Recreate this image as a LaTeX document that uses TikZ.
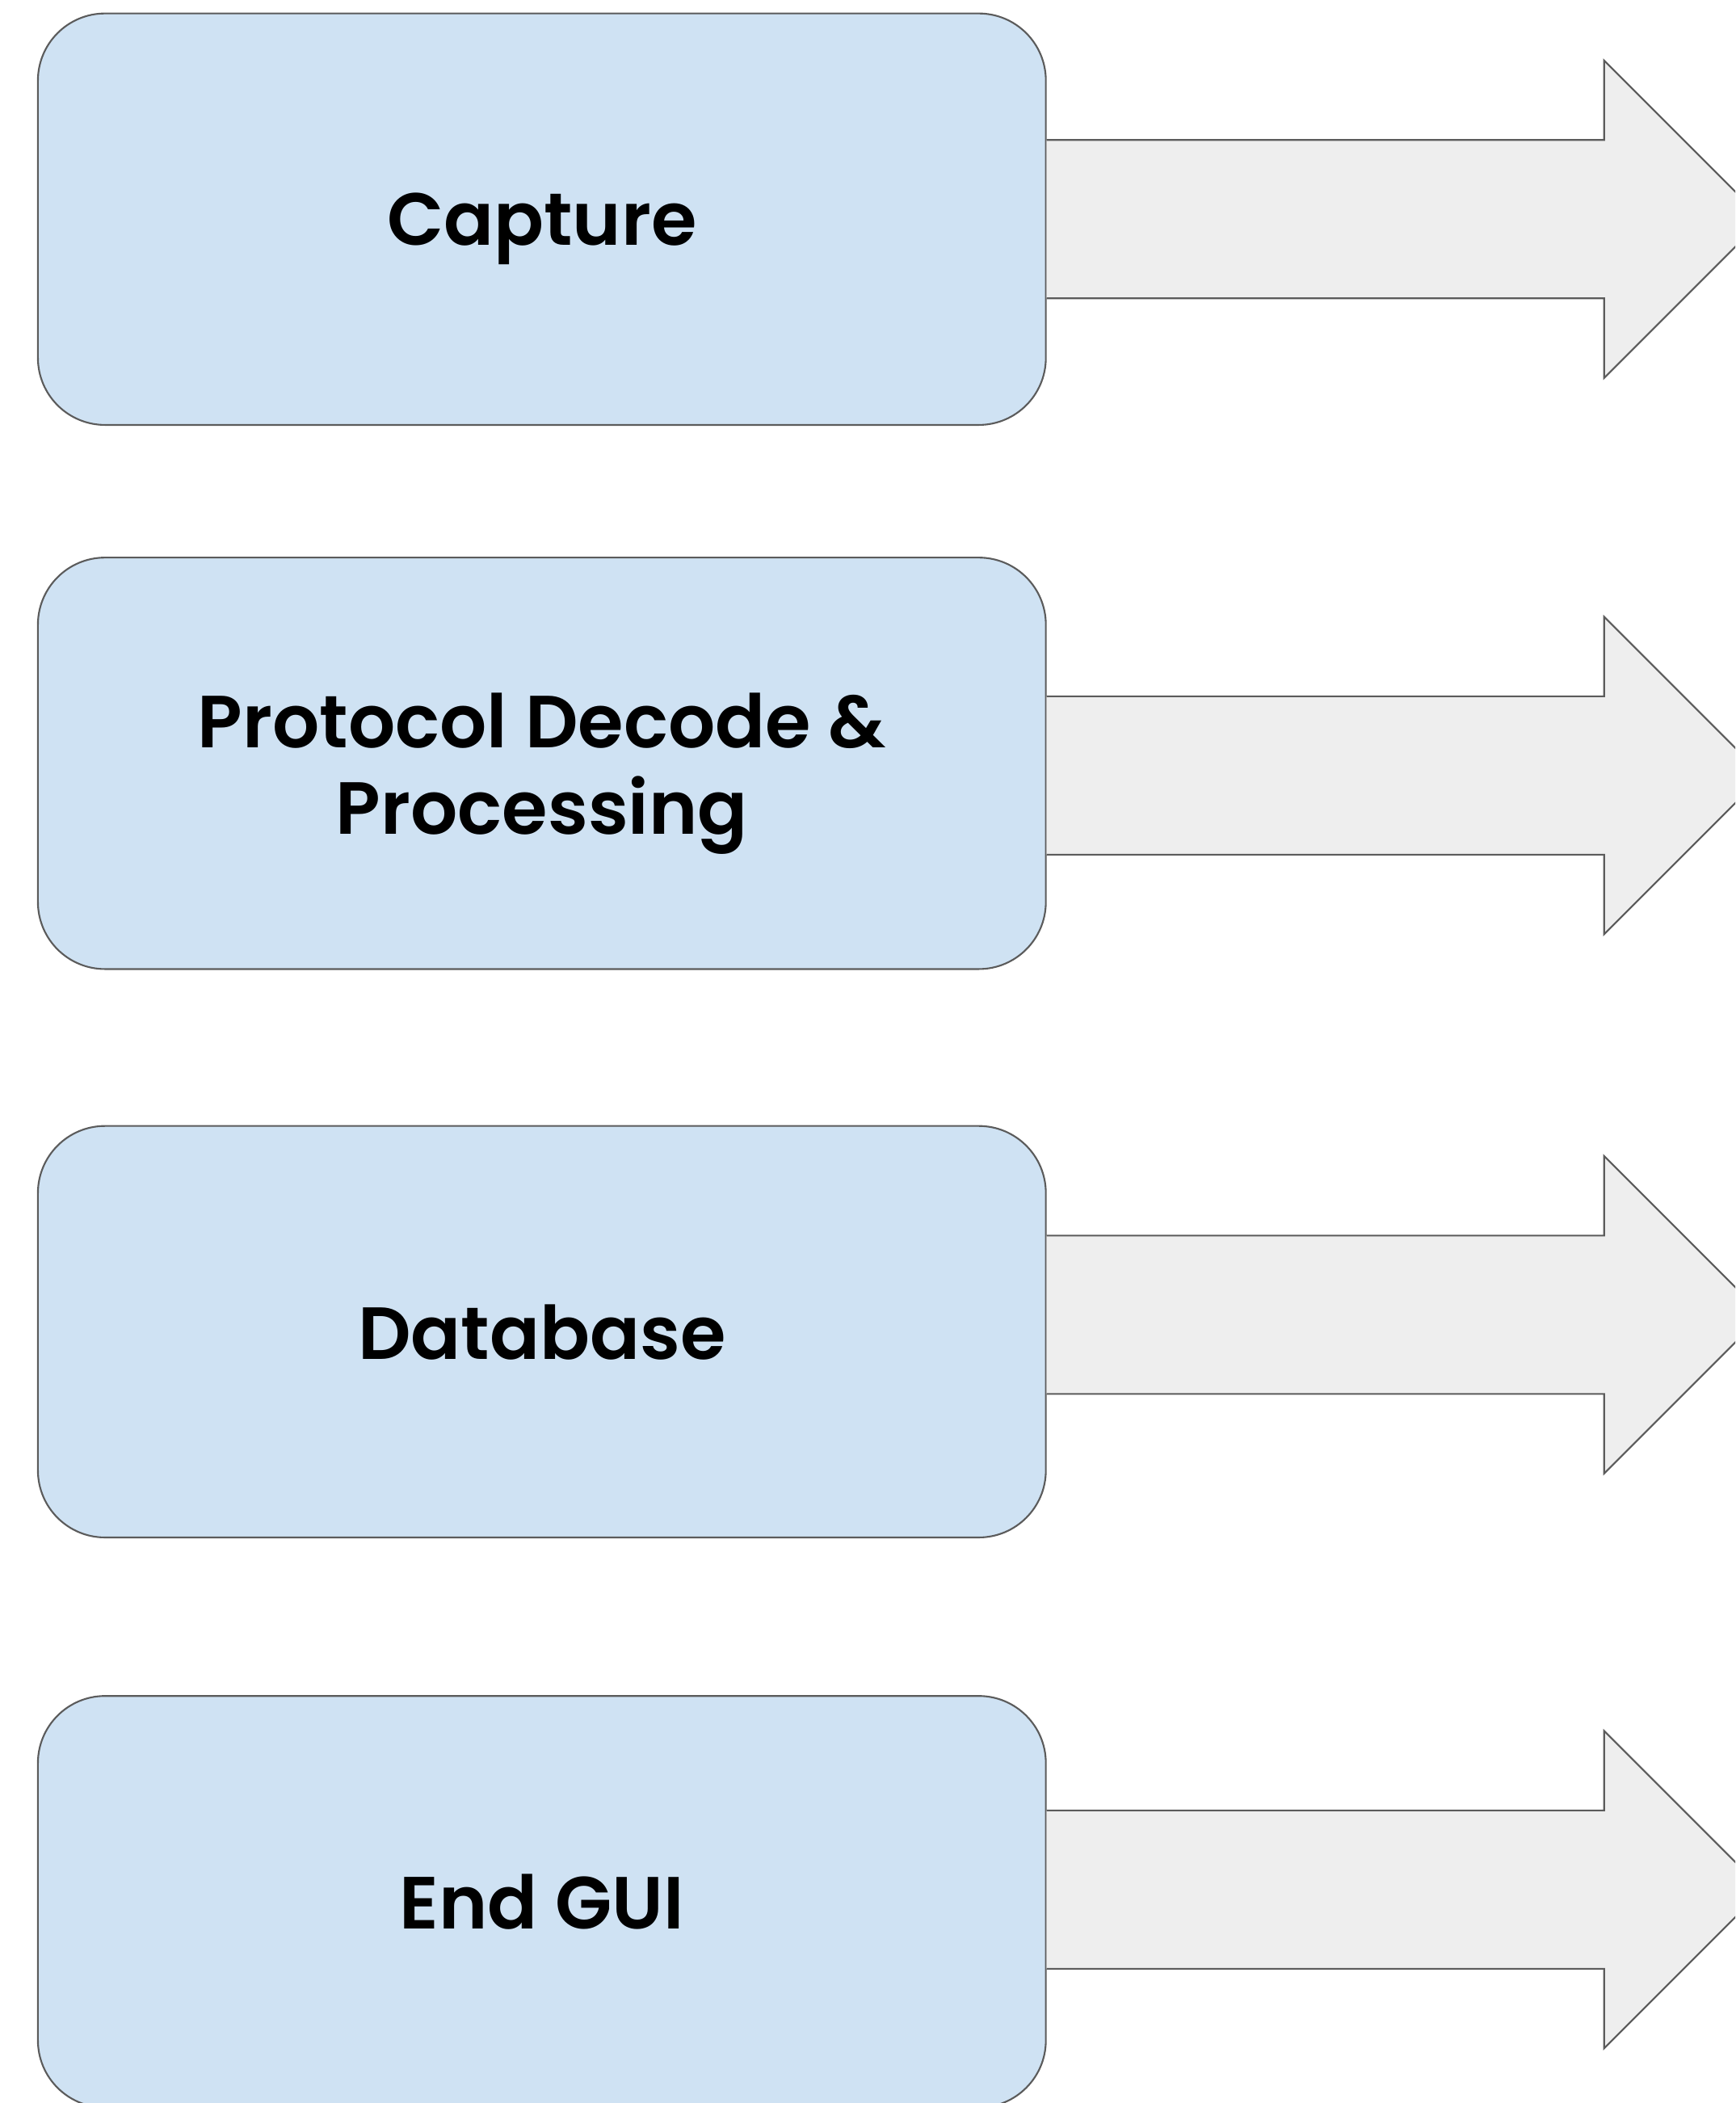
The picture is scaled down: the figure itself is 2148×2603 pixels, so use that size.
\documentclass[tikz,border=0pt]{standalone}
\usepackage{fontspec}
\setmainfont{Poppins}[BoldFont={Poppins SemiBold}]
\usetikzlibrary{positioning}
\definecolor{stageblue}{HTML}{CFE2F3}
\definecolor{flowgray}{HTML}{EEEEEE}
\definecolor{edgegray}{HTML}{5B5B5B}
\tikzset{
  stage/.style={draw=edgegray, fill=stageblue, line width=0.6pt,
    rounded corners=0.83cm, minimum width=12.47cm, minimum height=5.09cm,
    inner sep=0pt, align=center, text depth=0pt,
    font=\fontsize{26}{30.5}\selectfont\bfseries},
  flow/.style={draw=edgegray, fill=flowgray, line width=0.6pt, line join=miter}
}
% block arrow out of a stage: #1 stage, #2 vertical offset of its axis
\newcommand{\flowarrow}[2]{%
  \filldraw[flow] (#1.east) ++(0,{#2-98}) -- ++(690,0) -- ++(0,-98.5)
    -- ++(196.5,196.5) -- ++(-196.5,196.5) -- ++(0,-98.5) -- ++(-690,0);}
\begin{document}
\begin{tikzpicture}[x=0.01cm,y=-0.01cm]
  \useasboundingbox (0,0) rectangle (2148,2603);
  \clip (0,0) rectangle (2148,2603);

  \node[stage] (capture) at (670.8,271.3) {Capture};
  \node[stage, below=1.62cm of capture] (decode) {Protocol Decode \&\\Processing};
  \node[stage, below=1.92cm of decode] (database) {Database};
  \node[stage, below=1.94cm of database] (gui) {End GUI};

  \flowarrow{capture}{0}
  \flowarrow{decode}{15}
  \flowarrow{database}{-21}
  \flowarrow{gui}{-15}
\end{tikzpicture}
\end{document}
